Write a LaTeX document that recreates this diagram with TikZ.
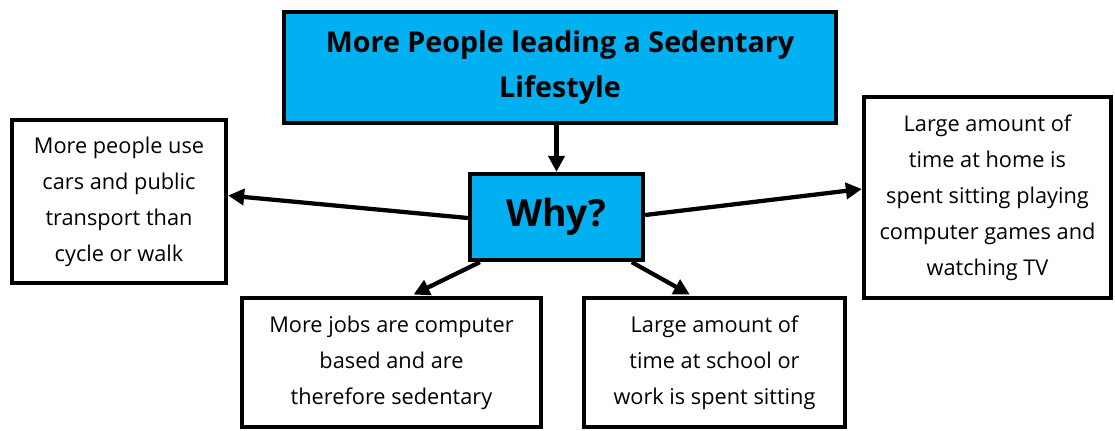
\documentclass[tikz,border=0pt]{standalone}
\usepackage{fontspec}
\setmainfont{Open Sans}
\usetikzlibrary{arrows.meta}
\definecolor{skyfill}{HTML}{00B0F0}
\tikzset{
  box/.style={draw=black, line width=3.2pt, rectangle, inner sep=0pt, align=center, fill=white},
  bluebox/.style={box, fill=skyfill},
  bodytext/.style={font=\fontsize{16.3pt}{27pt}\selectfont},
  conn/.style={line width=3.2pt, -{Triangle[length=12pt,width=12pt]}},
}
\begin{document}
\begin{tikzpicture}[x=0.75pt,y=-0.75pt]
\useasboundingbox (0,0) rectangle (1115,430);
\node[bluebox, minimum width=414pt, minimum height=83.25pt,
      font=\fontsize{21.5pt}{33.75pt}\selectfont\bfseries] (top) at (560,67.5)
      {More People leading a Sedentary\\Lifestyle};
\node[bluebox, minimum width=129.75pt, minimum height=64.5pt,
      font=\fontsize{28pt}{34pt}\selectfont\bfseries] (why) at (556.5,217) {Why?};
\node[box, bodytext, minimum width=160.5pt, minimum height=122.25pt] (left) at (119,201.5)
      {More people use\\cars and public\\transport than\\cycle or walk};
\node[box, bodytext, minimum width=224.25pt, minimum height=96.75pt] (bl) at (391.5,362.5)
      {More jobs are computer\\based and are\\therefore sedentary};
\node[box, bodytext, minimum width=195.75pt, minimum height=96.75pt] (br) at (714.5,362.5)
      {Large amount of\\time at school or\\work is spent sitting};
\node[box, bodytext, minimum width=185.25pt, minimum height=150.75pt] (right) at (987.5,197.5)
      {Large amount of\\time at home is\\spent sitting playing\\computer games and\\watching TV};
\draw[conn] (why.north |- top.south) -- (why.north);
\draw[conn] ([yshift=-0.75pt]why.west) -- ([yshift=4.5pt]left.east);
\draw[conn] ([yshift=1.5pt]why.east) -- ([yshift=6.4pt]right.west);
\draw[conn] ([xshift=9pt]why.south west) -- ([xshift=16.5pt,yshift=1pt]bl.north);
\draw[conn] ([xshift=-10pt]why.south east) -- ([xshift=-18.5pt,yshift=1pt]br.north);
\end{tikzpicture}
\end{document}
